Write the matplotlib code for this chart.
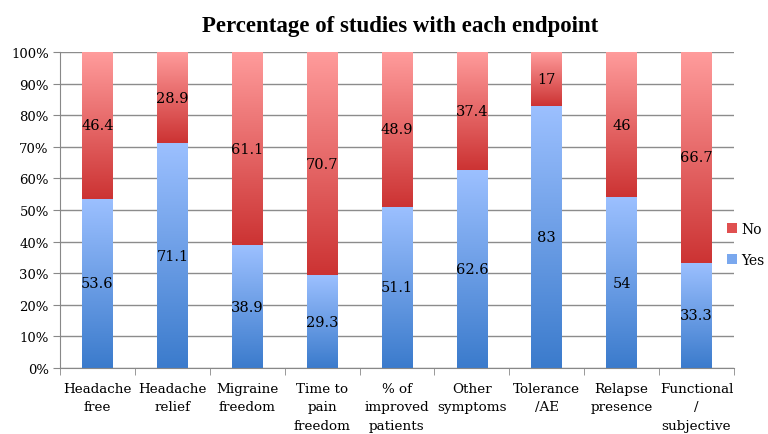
import matplotlib.pyplot as plt
import numpy as np
from matplotlib.colors import LinearSegmentedColormap

# ---data---
categories = ['Headache\nfree', 'Headache\nrelief', 'Migraine\nfreedom',
              'Time to\npain\nfreedom', '% of\nimproved\npatients',
              'Other\nsymptoms', 'Tolerance\n/AE', 'Relapse\npresence',
              'Functional\n/\nsubjective']
yes_vals = [53.6, 71.1, 38.9, 29.3, 51.1, 62.6, 83, 54, 33.3]
no_vals = [46.4, 28.9, 61.1, 70.7, 48.9, 37.4, 17, 46, 66.7]
yes_labels = ['53.6', '71.1', '38.9', '29.3', '51.1', '62.6', '83', '54', '33.3']
no_labels = ['46.4', '28.9', '61.1', '70.7', '48.9', '37.4', '17', '46', '66.7']

plt.rcParams['font.family'] = ['DejaVu Serif']

fig = plt.figure(figsize=(7.68, 4.35), dpi=100)
ax = fig.add_axes([0.0781, 0.1517, 0.8776, 0.7264])

x = np.arange(len(categories))
w = 0.41
bars_yes = ax.bar(x, yes_vals, w, color='#5b8fdb', label='Yes', zorder=2)
bars_no = ax.bar(x, no_vals, w, bottom=yes_vals, color='#e06060', label='No', zorder=2)

# gradient fill for each segment
blue_cm = LinearSegmentedColormap.from_list('b', ['#3b7bcc', '#9cc0ff'])
red_cm = LinearSegmentedColormap.from_list('r', ['#cc3333', '#ff9c9c'])
grad = np.linspace(0, 1, 256).reshape(-1, 1)
for bars, cm in ((bars_yes, blue_cm), (bars_no, red_cm)):
    for b in bars:
        bx, by = b.get_x(), b.get_y()
        im = ax.imshow(grad, cmap=cm, origin='lower', aspect='auto',
                       extent=[bx, bx + b.get_width(), by, by + b.get_height()],
                       zorder=2.5)
        im.set_clip_path(b)

for i in range(len(categories)):
    ax.text(x[i], yes_vals[i] / 2, yes_labels[i], ha='center', va='center',
            fontsize=10.5, zorder=3)
    ax.text(x[i], yes_vals[i] + no_vals[i] / 2, no_labels[i], ha='center',
            va='center', fontsize=10.5, zorder=3)

ax.set_xlim(-0.5, len(categories) - 0.5)
ax.set_ylim(0, 100)
ax.set_yticks(np.arange(0, 101, 10))
ax.set_yticklabels(['%d%%' % v for v in range(0, 101, 10)], fontsize=9.5)
ax.set_xticks(x)
ax.set_xticklabels(categories, fontsize=9.7, linespacing=1.55)
ax.set_xticks(np.arange(-0.5, len(categories), 1), minor=True)
ax.tick_params(axis='x', which='major', length=0, pad=10)
ax.tick_params(axis='x', which='minor', length=5, color='#888888')
ax.tick_params(axis='y', length=5, color='#888888', pad=3)
ax.yaxis.grid(True, color='#8c8c8c', linewidth=1.0, zorder=0)
ax.set_axisbelow(True)
for s in ('top', 'right'):
    ax.spines[s].set_visible(False)
ax.spines['left'].set_color('#888888')
ax.spines['bottom'].set_color('#888888')

fig.text(0.521, 0.94, 'Percentage of studies with each endpoint',
         ha='center', va='center', fontsize=16.5, fontweight='bold',
         family='Liberation Serif')

h, l = ax.get_legend_handles_labels()
leg = fig.legend(h[::-1], l[::-1], loc='upper left', bbox_to_anchor=(0.947, 0.488),
                 frameon=False, fontsize=10, handlelength=0.7, handleheight=0.7,
                 handletextpad=0.3, labelspacing=1.25, borderpad=0, borderaxespad=0)
for patch, c in zip(leg.get_patches(), ['#e05050', '#7aa8ee']):
    patch.set_facecolor(c)

fig.savefig('out.png', dpi=100)
